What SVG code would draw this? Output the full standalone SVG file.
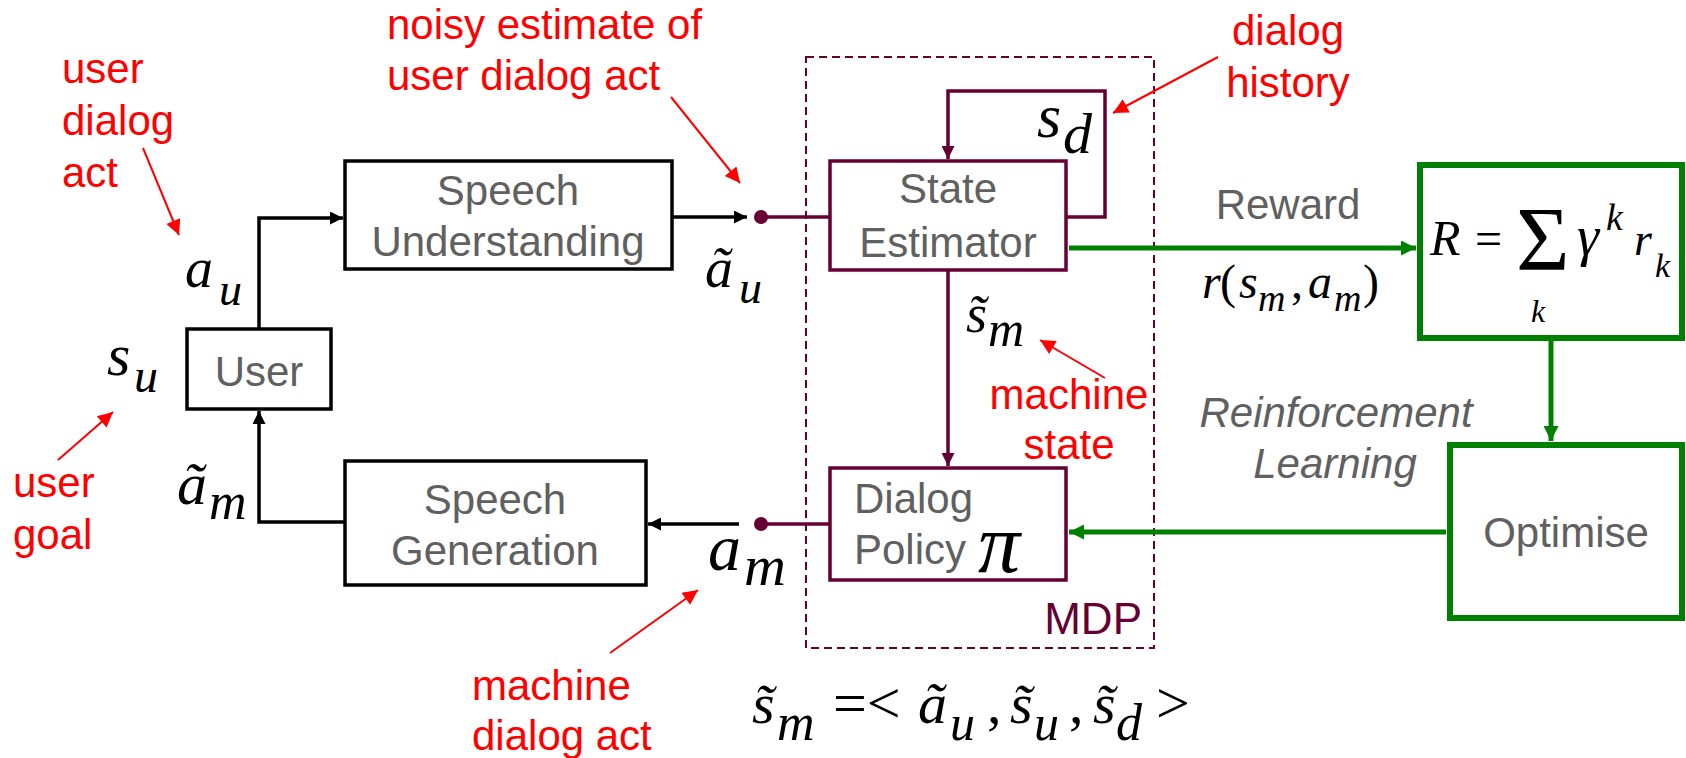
<svg xmlns="http://www.w3.org/2000/svg" width="1686" height="758" viewBox="0 0 1686 758">
  <style>
    .box-k { fill: #fff; stroke: #000; stroke-width: 3.5; }
    .box-m { fill: #fff; stroke: #660033; stroke-width: 3.5; }
    .box-g { fill: #fff; stroke: #008000; stroke-width: 6; }
    .lbl { font-family: "Liberation Sans", Arial, sans-serif; font-size: 42px; fill: #606060; }
    .it { font-style: italic; }
    .note { font-family: "Liberation Sans", Arial, sans-serif; font-size: 42px; fill: #ff0000; }
    .math { font-family: "Liberation Serif", "Times New Roman", serif; font-style: italic; fill: #000; }
    .up { font-style: normal; }
    .c-k { fill: none; stroke: #000; stroke-width: 3.5; }
    .c-m { fill: none; stroke: #660033; stroke-width: 3.5; }
    .c-g { fill: none; stroke: #008000; stroke-width: 5; }
    .c-r { fill: none; stroke: #ff0000; stroke-width: 2; }
  </style>
  <defs>
    <marker id="ah-k" viewBox="0 0 10 10" refX="10" refY="5" markerWidth="15" markerHeight="13" markerUnits="userSpaceOnUse" orient="auto"><path d="M0,0 L10,5 L0,10 z" fill="#000"/></marker>
    <marker id="ah-m" viewBox="0 0 10 10" refX="10" refY="5" markerWidth="15" markerHeight="13" markerUnits="userSpaceOnUse" orient="auto"><path d="M0,0 L10,5 L0,10 z" fill="#660033"/></marker>
    <marker id="ah-g" viewBox="0 0 10 10" refX="10" refY="5" markerWidth="16" markerHeight="15" markerUnits="userSpaceOnUse" orient="auto"><path d="M0,0 L10,5 L0,10 z" fill="#008000"/></marker>
    <marker id="ah-r" viewBox="0 0 10 10" refX="10" refY="5" markerWidth="18" markerHeight="15" markerUnits="userSpaceOnUse" orient="auto"><path d="M0,0 L10,5 L0,10 z" fill="#ff0000"/></marker>
  </defs>

  <!-- MDP boundary -->
  <g id="mdp">
    <rect x="806" y="57" width="348" height="591" fill="none" stroke="#660033" stroke-width="2" stroke-dasharray="8 5"/>
    <text x="1142" y="634" text-anchor="end" font-family="Liberation Sans, Arial, sans-serif" font-size="44" fill="#660033">MDP</text>
  </g>

  <!-- connectors -->
  <g id="connectors">
    <!-- user act up to speech understanding -->
    <path class="c-k" d="M259,328 V218 H343" marker-end="url(#ah-k)"/>
    <path class="c-k" d="M672,217 H747" marker-end="url(#ah-k)"/>
    <path class="c-m" d="M761,217 H830"/>
    <!-- dialog history loop -->
    <path class="c-m" d="M1066,217 H1105 V91 H948 V159" marker-end="url(#ah-m)"/>
    <path class="c-m" d="M948,270 V466" marker-end="url(#ah-m)"/>
    <path class="c-m" d="M761,524 H830"/>
    <path class="c-k" d="M739,524 H648" marker-end="url(#ah-k)"/>
    <path class="c-k" d="M345,522 H259 V411" marker-end="url(#ah-k)"/>
    <!-- reward / optimisation loop -->
    <path class="c-g" d="M1069,248 H1416" marker-end="url(#ah-g)"/>
    <path class="c-g" d="M1551,341 V441" marker-end="url(#ah-g)"/>
    <path class="c-g" d="M1446,532 H1069" marker-end="url(#ah-g)"/>
    <circle cx="761" cy="217" r="7" fill="#660033"/>
    <circle cx="761" cy="524" r="7" fill="#660033"/>
  </g>

  <!-- annotations -->
  <g id="notes">
    <text class="note" x="62" y="83">user</text>
    <text class="note" x="62" y="135">dialog</text>
    <text class="note" x="62" y="187">act</text>
    <path class="c-r" d="M143,148 L179,235" marker-end="url(#ah-r)"/>

    <text class="note" x="387" y="39">noisy estimate of</text>
    <text class="note" x="387" y="90">user dialog act</text>
    <path class="c-r" d="M671,97 L740,183" marker-end="url(#ah-r)"/>

    <text class="note" x="1288" y="45" text-anchor="middle">dialog</text>
    <text class="note" x="1288" y="97" text-anchor="middle">history</text>
    <path class="c-r" d="M1218,57 L1113,113" marker-end="url(#ah-r)"/>

    <text class="note" x="1069" y="409" text-anchor="middle">machine</text>
    <text class="note" x="1069" y="459" text-anchor="middle">state</text>
    <path class="c-r" d="M1105,378 L1040,340" marker-end="url(#ah-r)"/>

    <text class="note" x="13" y="497">user</text>
    <text class="note" x="13" y="549">goal</text>
    <path class="c-r" d="M58,460 L113,412" marker-end="url(#ah-r)"/>

    <text class="note" x="472" y="700">machine</text>
    <text class="note" x="472" y="750">dialog act</text>
    <path class="c-r" d="M610,653 L698,590" marker-end="url(#ah-r)"/>
  </g>

  <!-- nodes -->
  <g id="user">
    <rect class="box-k" x="187" y="329" width="144" height="80"/>
    <text class="lbl" x="259" y="386" text-anchor="middle">User</text>
  </g>
  <g id="speech-understanding">
    <rect class="box-k" x="345" y="161" width="327" height="108"/>
    <text class="lbl" x="508" y="205" text-anchor="middle">Speech</text>
    <text class="lbl" x="508" y="256" text-anchor="middle">Understanding</text>
  </g>
  <g id="speech-generation">
    <rect class="box-k" x="345" y="461" width="301" height="124"/>
    <text class="lbl" x="495" y="514" text-anchor="middle">Speech</text>
    <text class="lbl" x="495" y="565" text-anchor="middle">Generation</text>
  </g>
  <g id="state-estimator">
    <rect class="box-m" x="830" y="161" width="236" height="109"/>
    <text class="lbl" x="948" y="203" text-anchor="middle">State</text>
    <text class="lbl" x="948" y="257" text-anchor="middle">Estimator</text>
  </g>
  <g id="dialog-policy">
    <rect class="box-m" x="830" y="468" width="236" height="112"/>
    <text class="lbl" x="854" y="513">Dialog</text>
    <text class="lbl" x="854" y="564">Policy</text>
    <text class="math" x="978" y="572" font-size="84">π</text>
  </g>
  <g id="reward">
    <rect class="box-g" x="1420" y="165" width="262" height="173"/>
    <text class="math" x="1430" y="255" font-size="50">R</text>
    <text class="math up" x="1475" y="255" font-size="48">=</text>
    <!-- summation with its index below -->
    <text class="math up" x="1516" y="270" font-size="92">Σ</text>
    <text class="math" x="1531" y="322" font-size="32">k</text>
    <text class="math" x="1577" y="255" font-size="56">γ</text>
    <text class="math" x="1606" y="230" font-size="38">k</text>
    <text class="math" x="1634" y="255" font-size="46">r</text>
    <text class="math" x="1655" y="277" font-size="34">k</text>
  </g>
  <g id="optimise">
    <rect class="box-g" x="1450" y="445" width="232" height="173"/>
    <text class="lbl" x="1566" y="547" text-anchor="middle">Optimise</text>
  </g>

  <!-- edge labels -->
  <g id="edge-labels">
    <text class="lbl" x="1288" y="219" text-anchor="middle" font-size="46">Reward</text>
    <text class="math" y="298" font-size="48"><tspan x="1202">r</tspan><tspan class="up" x="1220">(</tspan><tspan x="1239">s</tspan><tspan x="1258" y="311" font-size="38">m</tspan><tspan class="up" x="1291" y="298">,</tspan><tspan x="1308">a</tspan><tspan x="1334" y="311" font-size="38">m</tspan><tspan class="up" x="1363" y="298">)</tspan></text>
    <text class="lbl it" x="1336" y="427" text-anchor="middle">Reinforcement</text>
    <text class="lbl it" x="1335" y="478" text-anchor="middle">Learning</text>

    <text class="math" x="185" y="287" font-size="56">a</text>
    <text class="math" x="219" y="305" font-size="46">u</text>
    <text class="math" x="107" y="375" font-size="60">s</text>
    <text class="math" x="134" y="392" font-size="48">u</text>
    <text class="math" x="705" y="287" font-size="56">ã</text>
    <text class="math" x="739" y="303" font-size="46">u</text>
    <text class="math" x="177" y="504" font-size="60">ã</text>
    <text class="math" x="209" y="519" font-size="52">m</text>
    <text class="math" x="708" y="570" font-size="66">a</text>
    <text class="math" x="744" y="585" font-size="58">m</text>
    <text class="math" x="1037" y="137" font-size="62">s</text>
    <text class="math" x="1063" y="153" font-size="58">d</text>
    <text class="math" x="966" y="332" font-size="54">s̃</text>
    <text class="math" x="988" y="346" font-size="50">m</text>

    <text class="math" y="723" font-size="58"><tspan x="752">s̃</tspan><tspan x="777" y="740" font-size="52">m</tspan><tspan class="up" x="833" y="723" font-size="60">=&lt;</tspan><tspan x="918">ã</tspan><tspan x="950" y="740" font-size="50">u</tspan><tspan class="up" x="987" y="723">,</tspan><tspan x="1010">s̃</tspan><tspan x="1034" y="740" font-size="50">u</tspan><tspan class="up" x="1069" y="723">,</tspan><tspan x="1093">s̃</tspan><tspan x="1116" y="740" font-size="52">d</tspan><tspan class="up" x="1156" y="723" font-size="60">&gt;</tspan></text>
  </g>
</svg>
